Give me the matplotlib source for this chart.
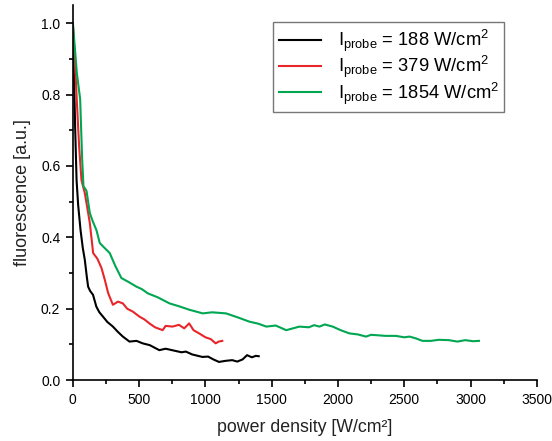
import numpy as np
import matplotlib
matplotlib.use('Agg')
import matplotlib.pyplot as plt
from matplotlib.ticker import MultipleLocator

plt.rcParams['font.family'] = ['Liberation Sans', 'DejaVu Sans']
plt.rcParams['mathtext.fontset'] = 'custom'
plt.rcParams['mathtext.rm'] = 'Liberation Sans'

# black: I_probe = 188 W/cm2
x_188 = [0, 8, 17, 28, 40, 58, 75, 90, 105, 115, 130, 152, 177, 200, 227, 260, 302, 340, 377,
         427, 480, 527, 580, 652, 700, 760, 820, 852, 900, 977, 1020, 1060, 1102, 1150, 1202,
         1240, 1280, 1314, 1350, 1380, 1402]
y_188 = [1.0, 0.86, 0.71, 0.56, 0.49, 0.42, 0.37, 0.337, 0.29, 0.262, 0.25, 0.239, 0.206, 0.19,
         0.178, 0.163, 0.15, 0.135, 0.122, 0.108, 0.11, 0.103, 0.098, 0.084, 0.088, 0.083, 0.078,
         0.08, 0.072, 0.065, 0.066, 0.058, 0.051, 0.054, 0.056, 0.052, 0.058, 0.07, 0.064, 0.068,
         0.067]

# red: I_probe = 379 W/cm2
x_379 = [0, 15, 30, 48, 65, 90, 110, 128, 153, 185, 216, 241, 266, 302, 340, 377, 410, 452,
         502, 540, 577, 620, 677, 700, 752, 800, 840, 877, 910, 952, 1000, 1040, 1077, 1100, 1127]
y_379 = [1.0, 0.9, 0.78, 0.65, 0.56, 0.524, 0.48, 0.44, 0.356, 0.34, 0.314, 0.281, 0.244, 0.211,
         0.22, 0.215, 0.2, 0.192, 0.178, 0.17, 0.159, 0.148, 0.14, 0.152, 0.15, 0.155, 0.145,
         0.159, 0.14, 0.131, 0.12, 0.115, 0.103, 0.108, 0.11]

# green: I_probe = 1854 W/cm2
x_1854 = [0, 15, 30, 55, 70, 80, 95, 103, 115, 128, 150, 178, 203, 240, 278, 320, 366, 420,
          479, 520, 566, 640, 729, 800, 880, 980, 1050, 1155, 1250, 1330, 1400, 1459, 1530,
          1609, 1660, 1709, 1780, 1820, 1860, 1900, 1960, 2020, 2085, 2150, 2211, 2250, 2286,
          2360, 2436, 2500, 2540, 2587, 2637, 2700, 2760, 2837, 2900, 2960, 3020, 3063]
y_1854 = [1.0, 0.93, 0.86, 0.787, 0.62, 0.543, 0.535, 0.53, 0.5, 0.468, 0.445, 0.42, 0.384, 0.37,
          0.356, 0.32, 0.286, 0.275, 0.262, 0.255, 0.243, 0.232, 0.215, 0.207, 0.197, 0.187,
          0.19, 0.187, 0.175, 0.164, 0.158, 0.15, 0.153, 0.14, 0.145, 0.15, 0.148, 0.154, 0.15,
          0.156, 0.15, 0.14, 0.131, 0.128, 0.122, 0.127, 0.126, 0.124, 0.124, 0.12, 0.122,
          0.117, 0.11, 0.11, 0.113, 0.112, 0.108, 0.112, 0.109, 0.11]

labels = [r'$\mathregular{I_{probe}}$ = 188 W/cm$\mathregular{^2}$',
          r'$\mathregular{I_{probe}}$ = 379 W/cm$\mathregular{^2}$',
          r'$\mathregular{I_{probe}}$ = 1854 W/cm$\mathregular{^2}$']

fig = plt.figure(figsize=(5.52, 4.41), dpi=100)
ax = fig.add_axes([0.132, 0.138, 0.8406, 0.85])

ax.plot(x_188, y_188, color='black', lw=1.5, label=labels[0])
ax.plot(x_379, y_379, color='#e8262a', lw=1.5, label=labels[1])
ax.plot(x_1854, y_1854, color='#00a651', lw=1.5, label=labels[2])

ax.set_xlim(0, 3500)
ax.set_ylim(0, 1.05)
ax.spines['top'].set_visible(False)
ax.spines['right'].set_visible(False)
ax.spines['left'].set_linewidth(1.2)
ax.spines['bottom'].set_linewidth(1.2)
ax.xaxis.set_major_locator(MultipleLocator(500))
ax.xaxis.set_minor_locator(MultipleLocator(250))
ax.yaxis.set_major_locator(MultipleLocator(0.2))
ax.yaxis.set_minor_locator(MultipleLocator(0.1))
ax.tick_params(which='major', direction='out', length=5, width=1.2, labelsize=10, pad=4)
ax.tick_params(which='minor', direction='out', length=3, width=1.2)
ax.set_xlabel('power density [W/cm²]', fontsize=12.8, labelpad=9, color='#222222')
ax.set_ylabel('fluorescence [a.u.]', fontsize=13, labelpad=7, color='#222222')

leg = ax.legend(loc='upper right', bbox_to_anchor=(0.93, 0.955), borderaxespad=0,
                fontsize=13.2, frameon=True, fancybox=False, edgecolor='#555555',
                handlelength=2.3, handletextpad=0.9, labelspacing=0.0, borderpad=0.3)
leg.get_frame().set_linewidth(1.0)

fig.savefig('out.png', dpi=100)
